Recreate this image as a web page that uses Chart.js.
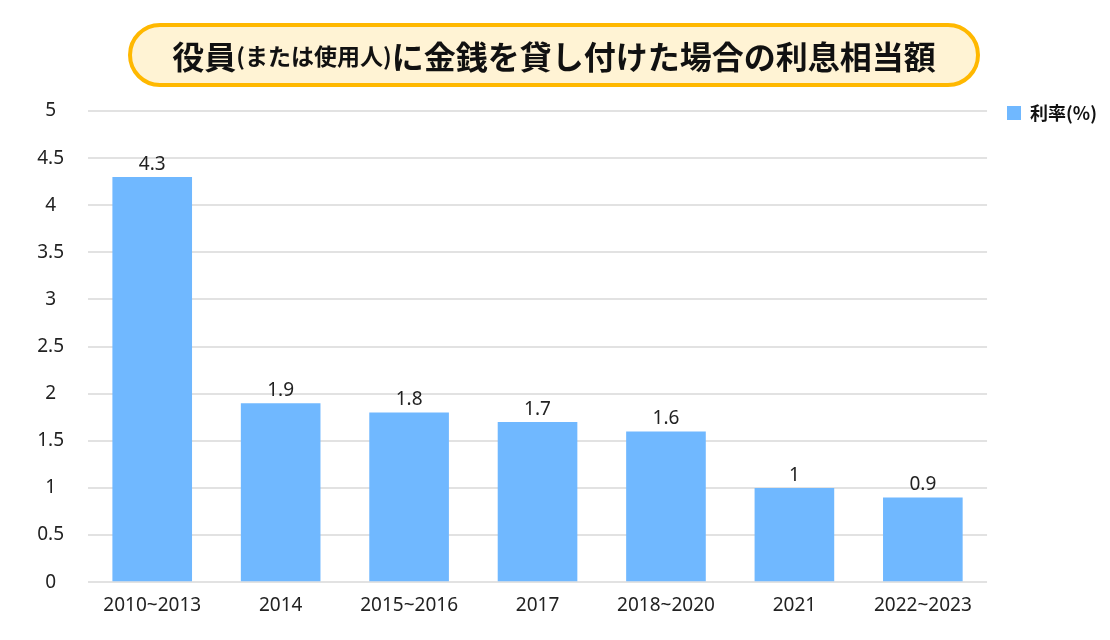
<!DOCTYPE html>
<html>
<head>
<meta charset="utf-8">
<script src="https://cdn.jsdelivr.net/npm/chart.js@4/dist/chart.umd.min.js"></script>
<style>
  html, body { margin: 0; padding: 0; background: #fff; }
  #wrap { position: relative; width: 1110px; height: 640px; }
  #c { position: absolute; left: 0; top: 0; }
  #title {
    position: absolute; left: 128px; top: 23px; width: 852px; height: 64px;
    box-sizing: border-box; border: 4px solid #FFB800; border-radius: 32px;
    background: #FFF3D4; display: flex; align-items: center; justify-content: center;
    font-family: "Noto Sans CJK JP", sans-serif; font-weight: 700; color: #111;
    font-size: 32px; letter-spacing: 0px; white-space: nowrap;
  }
  #title .s { font-size: 23px; }
</style>
</head>
<body>
<div id="wrap">
  <canvas id="c" width="1110" height="640"></canvas>
  <div id="title">役員<span class="s">(または使用人)</span>に金銭を貸し付けた場合の利息相当額</div>
</div>
<script>
const categories = ["2010~2013", "2014", "2015~2016", "2017", "2018~2020", "2021", "2022~2023"];
const rates = [4.3, 1.9, 1.8, 1.7, 1.6, 1, 0.9];
const seriesName = "利率(%)";
const yTicks = [0, 0.5, 1, 1.5, 2, 2.5, 3, 3.5, 4, 4.5, 5];

const valueLabels = {
  id: 'valueLabels',
  afterDatasetsDraw(chart) {
    const ctx = chart.ctx;
    const meta = chart.getDatasetMeta(0);
    ctx.save();
    ctx.font = '19px "Noto Sans", sans-serif';
    ctx.fillStyle = '#222';
    ctx.textAlign = 'center';
    ctx.textBaseline = 'bottom';
    meta.data.forEach((bar, i) => {
      ctx.fillText(String(chart.data.datasets[0].data[i]), bar.x, bar.y - 3);
    });
    ctx.restore();
  }
};

const legendPlace = {
  id: 'legendPlace',
  afterLayout(chart) {
    const lg = chart.legend;
    const p = lg.options.labels.padding;
    const dx = (1007 - p) - lg.left;
    const dy = (104 - p) - lg.top;
    lg.left += dx; lg.right += dx;
    lg.top += dy; lg.bottom += dy;
  }
};

new Chart(document.getElementById('c'), {
  type: 'bar',
  data: {
    labels: categories,
    datasets: [{
      label: seriesName,
      data: rates,
      backgroundColor: '#70B8FF',
      borderWidth: 0,
      barPercentage: 0.62,
      categoryPercentage: 1.0
    }]
  },
  options: {
    responsive: false,
    animation: false,
    devicePixelRatio: 1,
    layout: { padding: { top: 111, bottom: 19, left: 0, right: 13 } },
    plugins: {
      legend: {
        position: 'right',
        align: 'start',
        labels: {
          boxWidth: 14, boxHeight: 14, padding: 10,
          color: '#111',
          font: { family: '"Noto Sans CJK JP", sans-serif', size: 18, weight: 'bold' }
        }
      },
      tooltip: { enabled: false }
    },
    scales: {
      x: {
        grid: { display: false },
        border: { display: false },
        ticks: { color: '#222', font: { family: '"Noto Sans", sans-serif', size: 19 }, padding: 4, maxRotation: 0 }
      },
      y: {
        min: 0, max: 5,
        afterBuildTicks(scale) { scale.ticks = yTicks.map(v => ({ value: v })); },
        afterFit(scale) { scale.width = 88; },
        grid: { color: '#E2E2E2', lineWidth: 2, drawTicks: false },
        border: { display: false },
        ticks: {
          color: '#222', font: { family: '"Noto Sans", sans-serif', size: 19 },
          crossAlign: 'center', padding: 24,
          callback: v => String(v)
        }
      }
    }
  },
  plugins: [valueLabels, legendPlace]
});
</script>
</body>
</html>
